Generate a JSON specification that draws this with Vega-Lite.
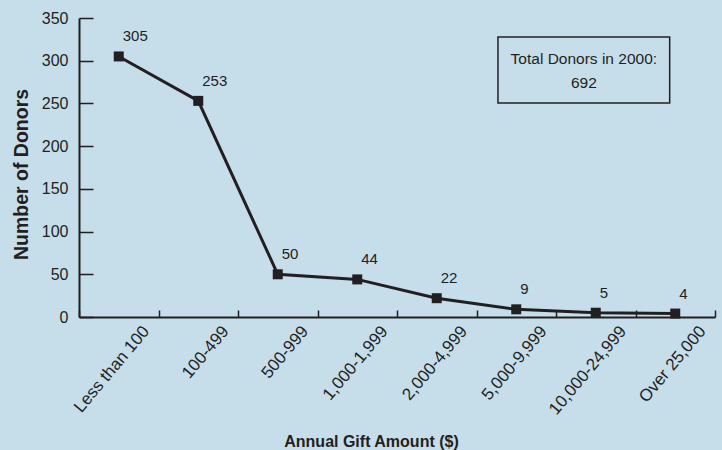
{
  "$schema": "https://vega.github.io/schema/vega-lite/v6.json",
  "width": 636,
  "height": 299,
  "autosize": {"type": "none"},
  "padding": {"left": 79, "top": 18, "right": 7, "bottom": 133},
  "background": "#c6deea",
  "config": {
    "view": {"stroke": null},
    "font": "Liberation Sans, Arial",
    "axis": {"labelColor": "#231f20", "titleColor": "#231f20", "domainColor": "#231f20", "tickColor": "#231f20"}
  },
  "datasets": {
    "donors": [
      {"amount": "Less than 100", "donors": 305},
      {"amount": "100-499", "donors": 253},
      {"amount": "500-999", "donors": 50},
      {"amount": "1,000-1,999", "donors": 44},
      {"amount": "2,000-4,999", "donors": 22},
      {"amount": "5,000-9,999", "donors": 9},
      {"amount": "10,000-24,999", "donors": 5},
      {"amount": "Over 25,000", "donors": 4}
    ],
    "box": [{"x": 5.27, "x2": 7.43, "y": 250.5, "y2": 327.8}],
    "boxtext": [
      {"x": 6.35, "y": 302, "label": "Total Donors in 2000:"},
      {"x": 6.35, "y": 274, "label": "692"}
    ]
  },
  "layer": [
    {
      "data": {"name": "donors"},
      "encoding": {
        "x": {
          "field": "amount", "type": "nominal", "sort": null,
          "scale": {"type": "band", "paddingInner": 0, "paddingOuter": 0},
          "axis": {
            "title": "Annual Gift Amount ($)",
            "titleFontSize": 16, "titleFontWeight": "bold",
            "titleX": 292, "titleY": 129, "titleBaseline": "alphabetic", "titleAnchor": "middle",
            "labelAngle": -50, "labelAlign": "right", "labelBaseline": "middle",
            "labelFontSize": 17, "labelPadding": 18, "labelOffset": 27,
            "tickBand": "extent", "tickSize": -7, "tickWidth": 1.5, "domainWidth": 2,
            "grid": false
          }
        },
        "y": {
          "field": "donors", "type": "quantitative",
          "scale": {"domain": [0, 350]},
          "axis": {
            "title": "Number of Donors",
            "titleFontSize": 19.5, "titleFontWeight": "bold", "titlePadding": 10, "titleY": 156,
            "values": [0, 50, 100, 150, 200, 250, 300, 350],
            "labelFontSize": 16, "labelPadding": 25,
            "tickSize": -14, "tickWidth": 1.5, "domainWidth": 2,
            "grid": false
          }
        }
      },
      "layer": [
        {"mark": {"type": "line", "color": "#231f20", "strokeWidth": 3}},
        {"mark": {"type": "point", "shape": "square", "filled": true, "size": 100, "color": "#231f20", "opacity": 1}},
        {
          "mark": {"type": "text", "align": "left", "baseline": "alphabetic", "dx": 4, "dy": -15, "fontSize": 15, "color": "#231f20"},
          "encoding": {"text": {"field": "donors", "type": "quantitative"}}
        }
      ]
    },
    {
      "layer": [
        {
          "data": {"name": "box"},
          "mark": {"type": "rect", "filled": false, "stroke": "#231f20", "strokeWidth": 1.5},
          "encoding": {
            "x": {"field": "x", "type": "quantitative", "scale": {"domain": [0, 8]}, "axis": null},
            "x2": {"field": "x2"},
            "y": {"field": "y", "type": "quantitative", "axis": null},
            "y2": {"field": "y2"}
          }
        },
        {
          "data": {"name": "boxtext"},
          "mark": {"type": "text", "align": "center", "baseline": "middle", "fontSize": 15.5, "color": "#231f20"},
          "encoding": {
            "x": {"field": "x", "type": "quantitative", "scale": {"domain": [0, 8]}, "axis": null},
            "y": {"field": "y", "type": "quantitative", "axis": null},
            "text": {"field": "label"}
          }
        }
      ]
    }
  ],
  "resolve": {"scale": {"x": "independent"}, "axis": {"y": "independent"}}
}
